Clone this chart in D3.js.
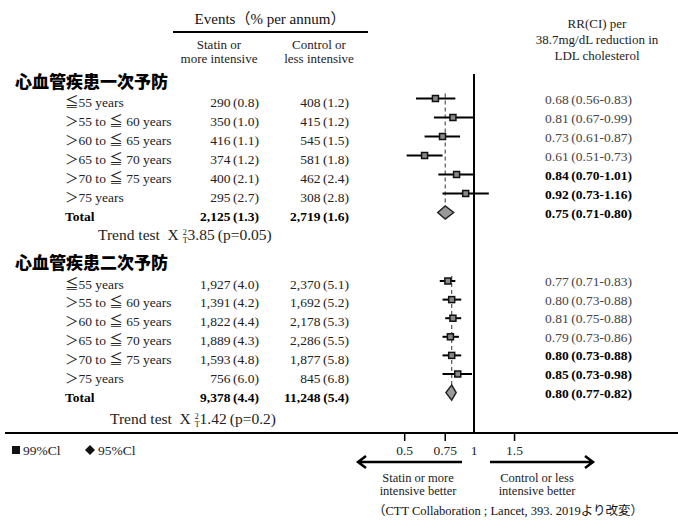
<!DOCTYPE html>
<html>
<head>
<meta charset="utf-8">
<script src="https://cdn.jsdelivr.net/npm/d3@7"></script>
<style>
  body { margin: 0; background: #fff; }
  svg { font-family: "Liberation Serif", "Noto Sans CJK JP", serif; }
</style>
</head>
<body>
<svg id="chart" width="678" height="520"></svg>
<script>
// chart data
var groups = ['心血管疾患一次予防', '心血管疾患二次予防']
var ageLabels = ['≦55 years', '＞55 to ≦ 60 years', '＞60 to ≦ 65 years', '＞65 to ≦ 70 years',
  '＞70 to ≦ 75 years', '＞75 years', 'Total']

var statinEvents = [[290, 350, 416, 374, 400, 295, 2125], [1927, 1391, 1822, 1889, 1593, 756, 9378]]
var statinPct = [[0.8, 1.0, 1.1, 1.2, 2.1, 2.7, 1.3], [4.0, 4.2, 4.4, 4.3, 4.8, 6.0, 4.4]]
var controlEvents = [[408, 415, 545, 581, 462, 308, 2719], [2370, 1692, 2178, 2286, 1877, 845, 11248]]
var controlPct = [[1.2, 1.2, 1.5, 1.8, 2.4, 2.8, 1.6], [5.1, 5.2, 5.3, 5.5, 5.8, 6.8, 5.4]]

var rr = [[0.68, 0.81, 0.73, 0.61, 0.84, 0.92, 0.75], [0.77, 0.80, 0.81, 0.79, 0.80, 0.85, 0.80]]
var rrLo = [[0.56, 0.67, 0.61, 0.51, 0.70, 0.73, 0.71], [0.71, 0.73, 0.75, 0.73, 0.73, 0.73, 0.77]]
var rrHi = [[0.83, 0.99, 0.87, 0.73, 1.01, 1.16, 0.80], [0.83, 0.88, 0.88, 0.86, 0.88, 0.98, 0.82]]
var boldRows = [4, 5, 6]

var trendChi = ['3.85', '1.42']
var trendP = ['p=0.05', 'p=0.2']
var axisTicks = [0.5, 0.75, 1, 1.5]

var svg = d3.select('#chart')

// log scale, 1 sits at x=474
var x = d3.scaleLog().domain([0.5, 1.5]).range([474 - 100 * Math.log(2), 474 + 100 * Math.log(1.5)])
var fmt = d3.format(',')
var f1 = d3.format('.1f')
var f2 = d3.format('.2f')

// row layout: marks + RR column, and the (slightly lower) left table
var groupTop = [82, 263]
var rowStart = [98.5, 281]
var rowStep = [19, 18.6]
var leftStart = [102, 283.5]
var leftStep = [18.95, 18.9]
var trendY = [240, 424]
var trendX = [98, 110]

// header
svg.append('text').attr('x', 270).attr('y', 23.5).attr('text-anchor', 'middle')
  .attr('font-size', 15).attr('fill', '#111').text('Events（% per annum）')
svg.append('line').attr('x1', 173).attr('x2', 368).attr('y1', 32).attr('y2', 32)
  .attr('stroke', '#000').attr('stroke-width', 2)
svg.append('text').attr('text-anchor', 'middle').attr('font-size', 13).attr('fill', '#222')
  .selectAll('tspan').data(['Statin or', 'more intensive']).enter().append('tspan')
  .attr('x', 219).attr('y', function(d, i) { return 49 + i * 14 }).text(function(d) { return d })
svg.append('text').attr('text-anchor', 'middle').attr('font-size', 13).attr('fill', '#222')
  .selectAll('tspan').data(['Control or', 'less intensive']).enter().append('tspan')
  .attr('x', 319).attr('y', function(d, i) { return 49 + i * 14 }).text(function(d) { return d })
svg.append('text').attr('text-anchor', 'middle').attr('font-size', 13).attr('fill', '#222')
  .selectAll('tspan').data(['RR(CI) per', '38.7mg/dL reduction in', 'LDL cholesterol']).enter().append('tspan')
  .attr('x', 597).attr('y', function(d, i) { return 28 + i * 16 }).text(function(d) { return d })

// reference line at 1 and axis
svg.append('line').attr('x1', x(1)).attr('x2', x(1)).attr('y1', 74).attr('y2', 433)
  .attr('stroke', '#000').attr('stroke-width', 2)
svg.append('line').attr('x1', 5).attr('x2', 678).attr('y1', 433).attr('y2', 433)
  .attr('stroke', '#000').attr('stroke-width', 2)

var tick = svg.append('g').selectAll('g').data(axisTicks).enter().append('g')
tick.filter(function(d) { return d !== 1 }).append('line')
  .attr('x1', function(d) { return x(d) }).attr('x2', function(d) { return x(d) })
  .attr('y1', 433).attr('y2', 441).attr('stroke', '#000').attr('stroke-width', 1.5)
tick.append('text').attr('x', function(d) { return x(d) }).attr('y', 455)
  .attr('text-anchor', 'middle').attr('font-size', 13.5).attr('fill', '#222')
  .text(function(d) { return d })

groups.forEach(function(name, g) {
  var y = function(i) { return rowStart[g] + i * rowStep[g] }
  var ly = function(i) { return leftStart[g] + i * leftStep[g] }
  var isTot = function(i) { return i === 6 }

  svg.append('text').attr('x', 15).attr('y', groupTop[g] + 6).attr('font-size', 17)
    .attr('font-weight', 900).attr('font-family', 'Noto Sans CJK JP').attr('fill', '#000').text(name)

  var row = svg.append('g').selectAll('g').data(ageLabels).enter().append('g')

  row.append('text').attr('x', 65).attr('y', function(d, i) { return ly(i) + 5 })
    .attr('font-size', 13.5).attr('fill', function(d, i) { return isTot(i) ? '#000' : '#222' })
    .attr('font-weight', function(d, i) { return isTot(i) ? 'bold' : null })
    .text(function(d) { return d })

  row.append('text').attr('x', 259).attr('y', function(d, i) { return ly(i) + 5 })
    .attr('text-anchor', 'end').attr('font-size', 13.5)
    .attr('font-weight', function(d, i) { return isTot(i) ? 'bold' : null })
    .attr('fill', function(d, i) { return isTot(i) ? '#000' : '#222' })
    .text(function(d, i) { return fmt(statinEvents[g][i]) + '\u2009(' + f1(statinPct[g][i]) + ')' })

  row.append('text').attr('x', 349).attr('y', function(d, i) { return ly(i) + 5 })
    .attr('text-anchor', 'end').attr('font-size', 13.5)
    .attr('font-weight', function(d, i) { return isTot(i) ? 'bold' : null })
    .attr('fill', function(d, i) { return isTot(i) ? '#000' : '#222' })
    .text(function(d, i) { return fmt(controlEvents[g][i]) + '\u2009(' + f1(controlPct[g][i]) + ')' })

  row.append('text').attr('x', 545).attr('y', function(d, i) { return y(i) + 5 })
    .attr('font-size', 13.5)
    .attr('font-weight', function(d, i) { return boldRows.indexOf(i) >= 0 ? 'bold' : null })
    .attr('fill', function(d, i) { return boldRows.indexOf(i) >= 0 ? '#000' : '#444' })
    .text(function(d, i) { return f2(rr[g][i]) + '\u2009(' + f2(rrLo[g][i]) + '-' + f2(rrHi[g][i]) + ')' })

  // dashed line at the overall estimate
  svg.append('line').attr('x1', x(rr[g][6])).attr('x2', x(rr[g][6]))
    .attr('y1', y(0) - 5).attr('y2', y(6) - 7)
    .attr('stroke', '#555').attr('stroke-width', 1.2).attr('stroke-dasharray', '4,3')

  // confidence intervals and squares
  var sub = d3.range(6)
  svg.append('g').selectAll('line').data(sub).enter().append('line')
    .attr('x1', function(i) { return x(rrLo[g][i]) }).attr('x2', function(i) { return x(rrHi[g][i]) })
    .attr('y1', function(i) { return y(i) }).attr('y2', function(i) { return y(i) })
    .attr('stroke', '#000').attr('stroke-width', 2)
  svg.append('g').selectAll('rect').data(sub).enter().append('rect')
    .attr('x', function(i) { return x(rr[g][i]) - 3 }).attr('y', function(i) { return y(i) - 3 })
    .attr('width', 6).attr('height', 6)
    .attr('fill', '#888').attr('stroke', '#111').attr('stroke-width', 1.5)

  // diamond for total
  var lo = x(rrLo[g][6]) - 2, hi = x(rrHi[g][6]) + 2, cx = x(rr[g][6]), cy = y(6)
  var h = g === 0 ? 6.5 : 7.5
  svg.append('path')
    .attr('d', 'M' + lo + ',' + cy + 'L' + cx + ',' + (cy - h) + 'L' + hi + ',' + cy + 'L' + cx + ',' + (cy + h) + 'Z')
    .attr('fill', '#999').attr('stroke', '#222').attr('stroke-width', 1.5)

  // trend test
  var t = svg.append('text').attr('x', trendX[g]).attr('y', trendY[g]).attr('font-size', 15.5)
    .attr('fill', '#222').style('white-space', 'pre')
  t.append('tspan').text('Trend test  X ')
  t.append('tspan').attr('font-size', 8).attr('dy', -5.5).text('2')
  t.append('tspan').attr('font-size', 8).attr('dx', -4).attr('dy', 8).text('T')
  t.append('tspan').attr('dy', -2.5).text(trendChi[g] + '\u2009(' + trendP[g] + ')')
})

// legend
svg.append('rect').attr('x', 12).attr('y', 446).attr('width', 8).attr('height', 8).attr('fill', '#111')
svg.append('text').attr('x', 23).attr('y', 455).attr('font-size', 13.5).attr('fill', '#222').text('99%Cl')
svg.append('path').attr('d', 'M85,450L90,445L95,450L90,455Z').attr('fill', '#111')
svg.append('text').attr('x', 98).attr('y', 455).attr('font-size', 13.5).attr('fill', '#222').text('95%Cl')

// direction arrows
svg.append('path').attr('d', 'M462,462H359M366,456L358,462L366,468')
  .attr('fill', 'none').attr('stroke', '#000').attr('stroke-width', 2.5)
svg.append('path').attr('d', 'M490,462H592M585,456L593,462L585,468')
  .attr('fill', 'none').attr('stroke', '#000').attr('stroke-width', 2.5)
svg.append('text').attr('text-anchor', 'middle').attr('font-size', 12.5).attr('fill', '#222')
  .selectAll('tspan').data(['Statin or more', 'intensive better']).enter().append('tspan')
  .attr('x', 418).attr('y', function(d, i) { return 482 + i * 13 }).text(function(d) { return d })
svg.append('text').attr('text-anchor', 'middle').attr('font-size', 12.5).attr('fill', '#222')
  .selectAll('tspan').data(['Control or less', 'intensive better']).enter().append('tspan')
  .attr('x', 537).attr('y', function(d, i) { return 482 + i * 13 }).text(function(d) { return d })

svg.append('text').attr('x', 508).attr('y', 515).attr('text-anchor', 'middle')
  .attr('font-size', 12.5).attr('fill', '#111').text('（CTT Collaboration ; Lancet, 393. 2019より改変）')
</script>
</body>
</html>
